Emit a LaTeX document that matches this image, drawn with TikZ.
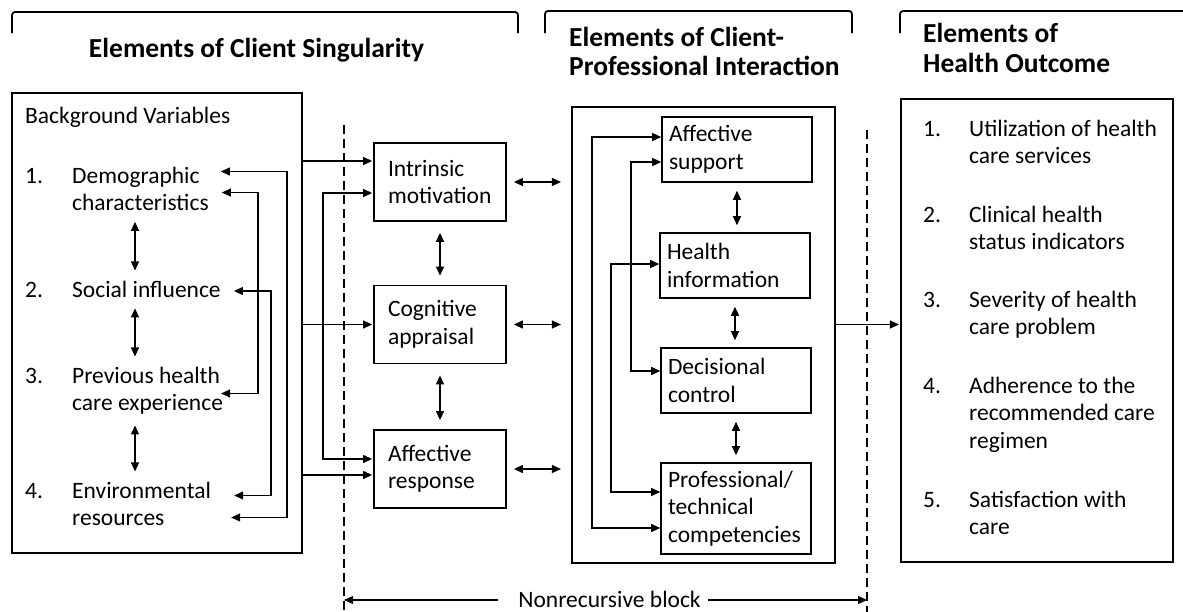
\documentclass[tikz,border=0pt]{standalone}
\usepackage{fontspec}
\setmainfont{Carlito}
\usetikzlibrary{arrows.meta}

\tikzset{
	every node/.style={inner sep=0pt, font=\fontsize{23.5}{27.5}\selectfont},
	head/.style={font=\fontsize{27.5}{29}\selectfont\bfseries, align=left, anchor=base west},
	item/.style={align=left, anchor=base west},
	frame/.style={draw, line width=2.2pt},
	elem/.style={draw, line width=1.8pt, align=left, text width=104pt, inner xsep=14pt, minimum height=78pt},
	inter/.style={draw, line width=1.6pt, align=left, text width=136pt, inner xsep=7pt, minimum height=65pt},
	conn/.style={line width=1.2pt, -{Triangle[length=9pt,width=8pt]}, shorten >=1pt},
	conn2/.style={line width=1.2pt, {Triangle[length=9pt,width=8pt]}-{Triangle[length=9pt,width=8pt]}},
	block/.style={line width=2pt, dash pattern=on 9pt off 5pt},
	brace/.style={line width=1.8pt, rounded corners=3pt}
}

\begin{document}
\begin{tikzpicture}[x=1pt,y=-1pt]
	\useasboundingbox (0,0) rectangle (1183,611);

	% headings
	\draw[brace] (12,33) -- (12,12) -- (518,12) -- (518,33);
	\draw[brace] (545,33) -- (545,11) -- (852,11) -- (852,33);
	\draw[brace] (900,33) -- (900,11) -- (1190,11);
	\node[head, anchor=base] (hsing) at (256.5,57) {Elements of Client Singularity};
	\node[head] (hinter) at (569,75) {Elements of Client-\\Professional Interaction};
	\node[head, font=\fontsize{27.5}{30}\selectfont\bfseries] (hout) at (923,72) {Elements of\\Health Outcome};

	% outer frames
	\node[frame, minimum width=290pt, minimum height=460pt] (bgbox) at (157,323) {};
	\node[frame, minimum width=263pt, minimum height=456pt] (midbox) at (703.5,335) {};
	\node[frame, minimum width=272pt, minimum height=463pt] (outbox) at (1037,330.5) {};

	% background variables
	\node[item] (bgvar) at (25,123) {Background Variables};
	\foreach \n/\y in {1/183, 2/297, 3/383, 4/498}
	{
		\node[item] (num\n) at (25,\y) {\n.};
	};
	\node[item] (dem) at (72,210.5) {Demographic\\characteristics};
	\node[item] (soc) at (72,297) {Social influence};
	\node[item] (prev) at (72,410.5) {Previous health\\care experience};
	\node[item] (env) at (72,525.5) {Environmental\\resources};

	% client singularity
	\node[elem] (intr) at (440,182) {Intrinsic\\motivation};
	\node[elem] (cog) at (440,324.5) {Cognitive\\appraisal};
	\node[elem] (affr) at (440,469) {Affective\\response};

	% client-professional interaction
	\node[inter] (asup) at (737,149.5) {Affective\\support};
	\node[inter] (hinfo) at (735,265.5) {Health\\information};
	\node[inter] (dec) at (736,380.5) {Decisional\\control};
	\node[inter, minimum height=91pt] (prof) at (736,508.5) {Professional/\\technical\\competencies};

	% health outcome
	\foreach \n/\y in {1/136, 2/222, 3/307, 4/393, 5/507}
	{
		\node[item] (onum\n) at (923,\y) {\n.};
	};
	\node[item] (out1) at (969,163.5) {Utilization of health\\care services};
	\node[item] (out2) at (969,249.5) {Clinical health\\status indicators};
	\node[item] (out3) at (969,334.5) {Severity of health\\care problem};
	\node[item] (out4) at (969,448) {Adherence to the\\recommended care\\regimen};
	\node[item] (out5) at (969,534.5) {Satisfaction with\\care};

	% nonrecursive block
	\coordinate (dashL) at (344,125);
	\coordinate (dashLb) at (344,614);
	\coordinate (dashR) at (867,130);
	\coordinate (dashRb) at (867,614);
	\draw[block] (dashL) -- (dashLb);
	\draw[block] (dashR) -- (dashRb);
	\node[text height=14pt, text depth=0pt] (nrb) at (609.5,600) {Nonrecursive block};
	\draw[conn, shorten >=0pt] ([xshift=-20pt]nrb.west) -- (nrb.west -| dashL);
	\draw[conn, shorten >=0pt] ([xshift=7pt]nrb.east) -- (nrb.east -| dashR);

	% links among background variables
	\foreach \a/\b in {dem/soc, soc/prev, prev/env}
	{
		\draw[conn2, shorten <=11pt, shorten >=10pt] (135,0 |- \a.south) -- (135,0 |- \b.north);
	};
	\coordinate (dA) at ([shift={(12pt,39pt)}]dem.base east);
	\coordinate (dB) at ([shift={(13pt,18pt)}]dem.base east);
	\coordinate (sC) at ([shift={(13pt,6pt)}]soc.base east);
	\coordinate (pB) at ([shift={(-2pt,17pt)}]prev.base east);
	\coordinate (eC) at ([shift={(23pt,30pt)}]env.base east);
	\coordinate (eA) at ([shift={(20pt,8pt)}]env.base east);
	\draw[conn2] (dA) -| (287,0 |- eA) -- (eA);
	\draw[conn2] (dB) -| (258,0 |- pB) -- (pB);
	\draw[conn2] (sC) -| (271,0 |- eC) -- (eC);

	% background -> client singularity
	\coordinate (iA) at ([yshift=21pt]intr.west);
	\coordinate (iB) at ([yshift=-11pt]intr.west);
	\coordinate (rA) at ([yshift=10pt]affr.west);
	\coordinate (rB) at ([yshift=-6pt]affr.west);
	\draw[conn] (bgbox.east |- iA) -- (iA);
	\draw[conn] (bgbox.east |- cog.west) -- (cog.west);
	\draw[conn] (bgbox.east |- rB) -- (rB);
	\draw[conn2, shorten >=1pt, shorten <=1pt] (iB) -| (323,0 |- rA) -- (rA);
	\draw[conn2, shorten <=11pt, shorten >=9pt] (intr.south) -- (cog.north);
	\draw[conn2, shorten <=11pt, shorten >=9pt] (cog.south) -- (affr.north);

	% client singularity <-> interaction
	\foreach \i in {intr, cog, affr}
	{
		\draw[conn2, shorten <=7pt, shorten >=10pt] (\i.east) -- (\i.east -| midbox.west);
	};

	% links among interaction elements
	\foreach \a/\b in {asup/hinfo, hinfo/dec, dec/prof}
	{
		\draw[conn2, shorten <=8pt, shorten >=7pt] (\a.south) -- (\a.south |- \b.north);
	};
	\coordinate (sE) at ([yshift=12.5pt]asup.west);
	\coordinate (pE) at ([yshift=-19.5pt]prof.west);
	\coordinate (sF) at ([yshift=-12.5pt]asup.west);
	\coordinate (dF) at ([yshift=9.5pt]dec.west);
	\coordinate (hG) at ([yshift=1.5pt]hinfo.west);
	\coordinate (pG) at ([yshift=16.5pt]prof.west);
	\draw[conn2] (sE) -| (592,0 |- pE) -- (pE);
	\draw[conn2] (sF) -| (631,0 |- dF) -- (dF);
	\draw[conn2] (hG) -| (611,0 |- pG) -- (pG);

	% interaction -> outcome
	\draw[conn] (midbox.east |- cog) -- (outbox.west |- cog);
\end{tikzpicture}
\end{document}
